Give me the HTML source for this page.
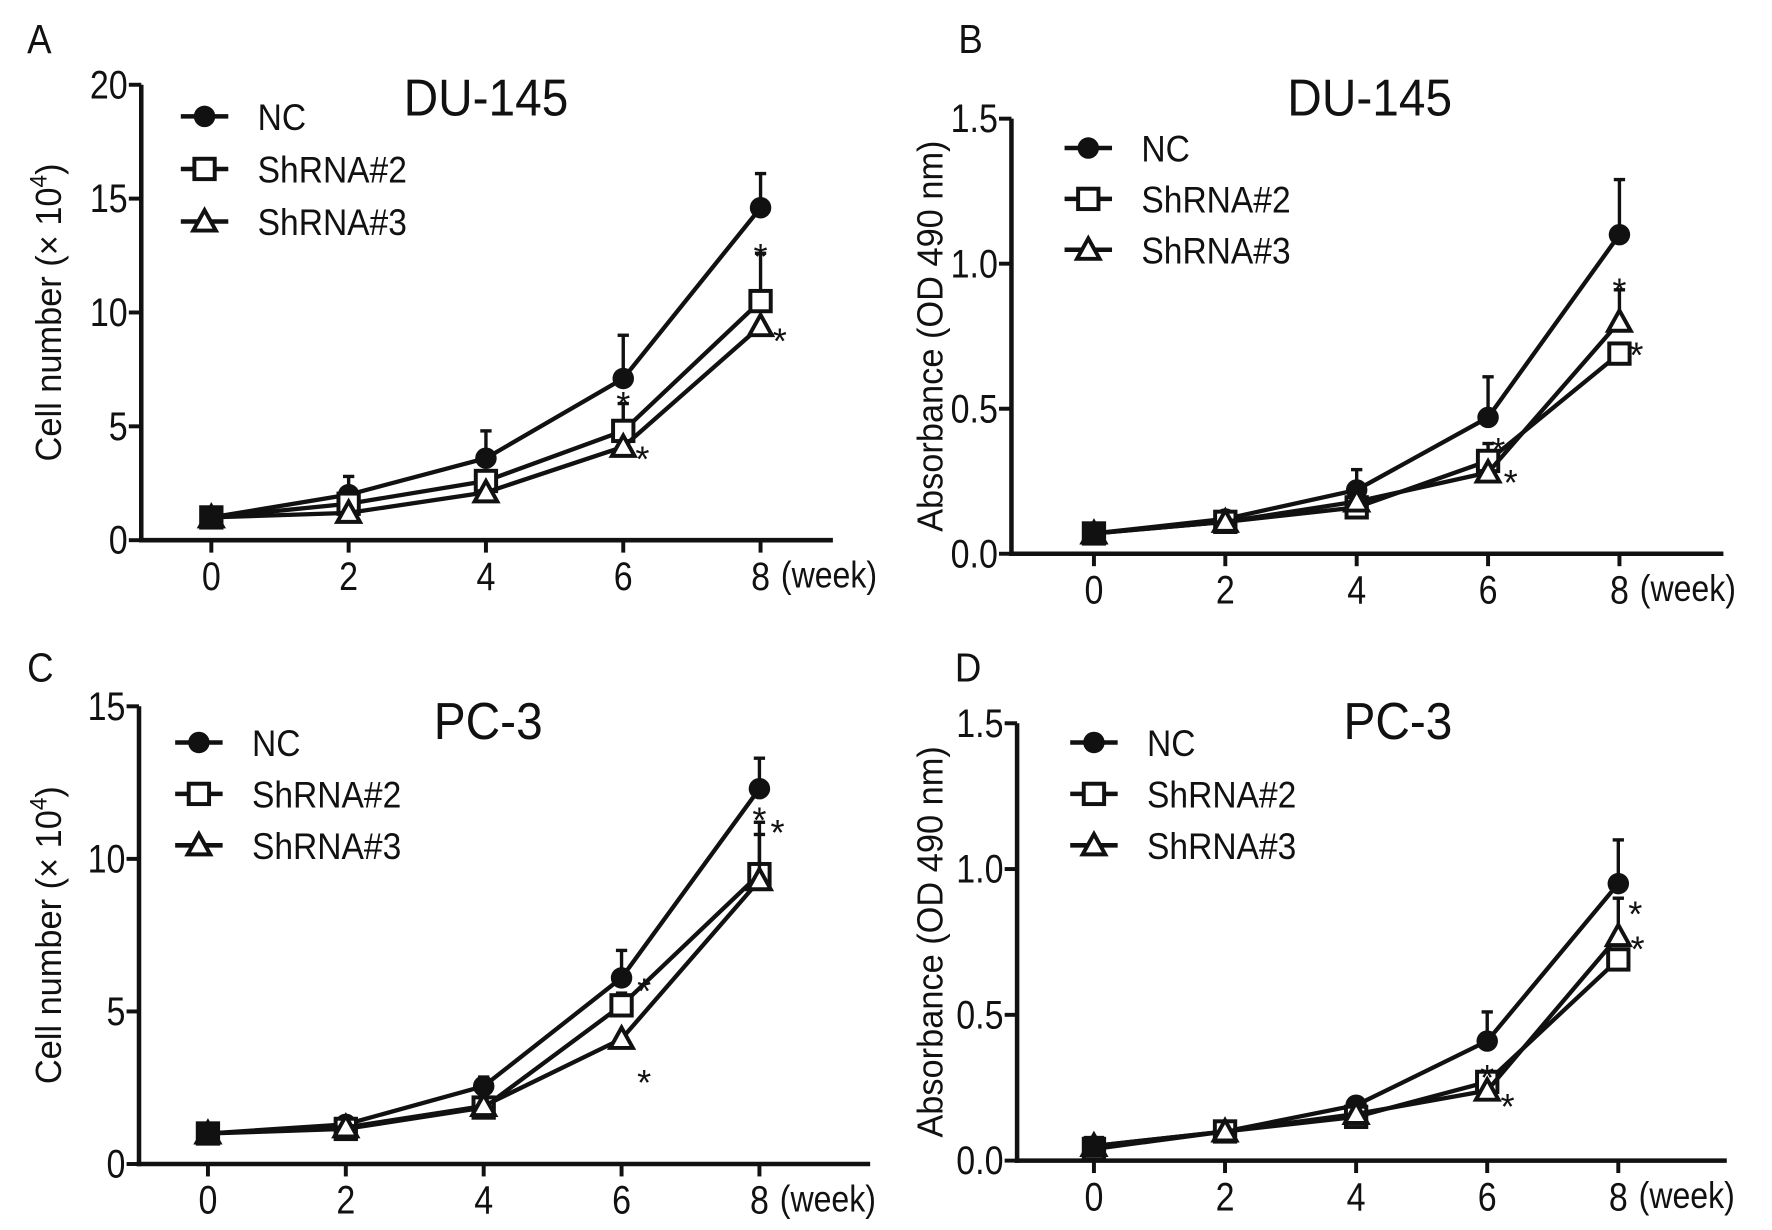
<!DOCTYPE html>
<html><head><meta charset="utf-8">
<style>
html,body{margin:0;padding:0;background:#fff;}
svg{display:block;}
text{font-family:"Liberation Sans Narrow","Liberation Sans",Arial,sans-serif;fill:#111;}
</style></head>
<body>
<svg id="fig" width="1772" height="1230" viewBox="0 0 1568 1088.4" preserveAspectRatio="none" xmlns="http://www.w3.org/2000/svg"></svg>
<script>
const weeks = [0, 2, 4, 6, 8];
const seriesNames = ["NC", "ShRNA#2", "ShRNA#3"];
// Panel A: DU-145 cell number
const aNC = [1, 2.0, 3.6, 7.1, 14.6];
const aNCerr = [0, 0.8, 1.2, 1.9, 1.5];
const aSh2 = [1, 1.6, 2.6, 4.8, 10.5];
const aSh2err = [0, 0.3, 0.4, 1.2, 2.1];
const aSh3 = [1, 1.2, 2.1, 4.1, 9.4];
const aSh3err = [0, 0, 0, 0, 0];
const aTicks = [0, 5, 10, 15, 20];
// Panel B: DU-145 absorbance
const bNC = [0.07, 0.12, 0.22, 0.47, 1.10];
const bNCerr = [0, 0.01, 0.07, 0.14, 0.19];
const bSh2 = [0.07, 0.11, 0.16, 0.32, 0.69];
const bSh2err = [0, 0.01, 0.01, 0.06, 0];
const bSh3 = [0.07, 0.11, 0.18, 0.28, 0.80];
const bSh3err = [0, 0, 0, 0, 0.11];
const bTicks = [0.0, 0.5, 1.0, 1.5];
// Panel C: PC-3 cell number
const cNC = [1, 1.3, 2.55, 6.1, 12.3];
const cNCerr = [0, 0.1, 0.3, 0.9, 1.0];
const cSh2 = [1, 1.15, 1.85, 5.2, 9.5];
const cSh2err = [0, 0, 0.1, 0.4, 1.7];
const cSh3 = [1, 1.2, 1.9, 4.1, 9.3];
const cSh3err = [0, 0, 0, 0, 1.5];
const cTicks = [0, 5, 10, 15];
// Panel D: PC-3 absorbance
const dNC = [0.05, 0.10, 0.19, 0.41, 0.95];
const dNCerr = [0, 0, 0.01, 0.10, 0.15];
const dSh2 = [0.04, 0.10, 0.15, 0.27, 0.69];
const dSh2err = [0, 0, 0, 0.02, 0];
const dSh3 = [0.05, 0.10, 0.16, 0.24, 0.77];
const dSh3err = [0, 0, 0, 0, 0.13];
const dTicks = [0.0, 0.5, 1.0, 1.5];

const NS = "http://www.w3.org/2000/svg";
const svg = document.getElementById("fig");
function el(tag, attrs, parent) {
  const e = document.createElementNS(NS, tag);
  for (const k in attrs) e.setAttribute(k, attrs[k]);
  (parent || svg).appendChild(e);
  return e;
}
function txt(s, x, y, size, anchor, parent, sx) {
  const t = el("text", {x: 0, y: 0, "font-size": size, "text-anchor": anchor || "start",
    transform: `translate(${x},${y}) scale(${sx || 0.86},1)`}, parent);
  t.textContent = s;
  return t;
}
function marker(kind, x, y, g) {
  let m;
  if (kind === 0) m = el("circle", {cx: x, cy: y, r: 9.5, fill: "#111"}, g);
  else if (kind === 1) m = el("rect", {x: x - 9, y: y - 9, width: 18, height: 18, fill: "#fff", stroke: "#111", "stroke-width": 3.5}, g);
  else m = el("polygon", {points: `${x},${y-10} ${x+10},${y+8} ${x-10},${y+8}`, fill: "#fff", stroke: "#111", "stroke-width": 3.5}, g);
  return m;
}

function panel(cfg) {
  const g = el("g", {});
  
  
  const ymax = cfg.ticks[cfg.ticks.length - 1];
  const X = w => cfg.x0 + (cfg.x8 - cfg.x0) * w / 8;
  const Y = v => cfg.yb - (cfg.yb - cfg.yt) * v / ymax;
  const ya = el("line", {x1: cfg.ax, y1: cfg.yt, x2: cfg.ax, y2: cfg.yb + 2, stroke: "#111", "stroke-width": 4}, g);
  
  
  const xa = el("line", {x1: cfg.ax - 2, y1: cfg.yb, x2: cfg.xend, y2: cfg.yb, stroke: "#111", "stroke-width": 4}, g);
  
  
  cfg.ticks.forEach(v => {
    el("line", {x1: cfg.ax - 11, y1: Y(v), x2: cfg.ax, y2: Y(v), stroke: "#111", "stroke-width": 3.5}, g);
    const t = txt(cfg.fmt(v), cfg.ax - 12, Y(v) + 12, 35, "end", g);
    
    
  });
  weeks.forEach(w => {
    el("line", {x1: X(w), y1: cfg.yb, x2: X(w), y2: cfg.yb + 11, stroke: "#111", "stroke-width": 3.5}, g);
    const t = txt(String(w), X(w), cfg.yb + 44, 35, "middle", g);
    
    
  });
  const wk = txt("(week)", X(8) + 18, cfg.yb + 42, 33, "start", g);
  
  
  const yt = el("text", {x: 0, y: 0, "font-size": 32, "text-anchor": "middle",
    transform: `translate(${cfg.ytx},${(cfg.yt + cfg.yb) / 2}) rotate(-90) scale(0.95,1)`}, g);
  
  
  if (cfg.sup) {
    yt.appendChild(document.createTextNode("Cell number (× 10"));
    const ts = document.createElementNS(NS, "tspan");
    ts.setAttribute("dy", "-13"); ts.setAttribute("font-size", "21"); ts.textContent = "4";
    yt.appendChild(ts);
    const ts2 = document.createElementNS(NS, "tspan");
    ts2.setAttribute("dy", "13"); ts2.textContent = ")";
    yt.appendChild(ts2);
  } else yt.textContent = "Absorbance (OD 490 nm)";
  const lt = txt(cfg.letter, cfg.lx, cfg.ly, 36, "start", g, 0.9);
  
  
  const tt = txt(cfg.title, cfg.tx, cfg.ty, 46, "middle", g, 0.92);
  
  
  cfg.series.forEach((s, i) => {
    const sg = el("g", {}, g);
    
    
    s.err.forEach((e, k) => {
      if (e > 0) {
        const top = Y(s.v[k] + e);
        el("line", {x1: X(weeks[k]), y1: Y(s.v[k]), x2: X(weeks[k]), y2: top, stroke: "#111", "stroke-width": 3}, sg);
        el("line", {x1: X(weeks[k]) - 5, y1: top, x2: X(weeks[k]) + 5, y2: top, stroke: "#111", "stroke-width": 3}, sg);
      }
    });
    el("polyline", {points: s.v.map((v, k) => X(weeks[k]) + "," + Y(v)).join(" "), fill: "none", stroke: "#111", "stroke-width": 3.8}, sg);
    s.v.forEach((v, k) => {
      const m = marker(i, X(weeks[k]), Y(v), sg);
      
      
    });
  });
  // opaque first-point overlap mark
  const fp = el("rect", {x: X(0) - 9, y: Y(cfg.series[0].v[0]) - 9, width: 18, height: 18, fill: "#111"}, g);
  
  
  cfg.stars.forEach(st => {
    const a = txt("*", X(st[0]) + st[1], Y(st[2]) + 20, 32, "middle", g, 1);
    
    
  });
  const lg = el("g", {}, g);
  
  
  seriesNames.forEach((n, i) => {
    const y = cfg.legy + i * cfg.legdy;
    const e = el("g", {}, lg);
    
    
    el("line", {x1: cfg.legx - 21, y1: y, x2: cfg.legx + 21, y2: y, stroke: "#111", "stroke-width": 4}, e);
    marker(i, cfg.legx, y, e);
    txt(n, cfg.legx + 47, y + 12, 33, "start", e, 0.9);
  });
}

panel({name: "panel-a", ax: 125, yt: 75, yb: 478, x0: 187, x8: 673, xend: 737, ticks: aTicks, fmt: v => String(v), sup: true, ytx: 54,
  letter: "A", lx: 24, ly: 47, title: "DU-145", tx: 430, ty: 102, legx: 181, legy: 103, legdy: 46.5,
  series: [{v: aNC, err: aNCerr}, {v: aSh2, err: aSh2err}, {v: aSh3, err: aSh3err}],
  stars: [[8, 0, 12.9], [8, 17, 9.2], [6, 0, 6.4], [6, 17, 4.0]]});
panel({name: "panel-b", ax: 895, yt: 105, yb: 490, x0: 968, x8: 1433, xend: 1525, ticks: bTicks, fmt: v => v.toFixed(1), sup: false, ytx: 834,
  letter: "B", lx: 848, ly: 47, title: "DU-145", tx: 1212, ty: 102, legx: 963, legy: 131, legdy: 45,
  series: [{v: bNC, err: bNCerr}, {v: bSh2, err: bSh2err}, {v: bSh3, err: bSh3err}],
  stars: [[8, 0, 0.94], [8, 15, 0.72], [6, 9, 0.39], [6, 20, 0.28]]});
panel({name: "panel-c", ax: 123, yt: 625, yb: 1030, x0: 184, x8: 672, xend: 770, ticks: cTicks, fmt: v => String(v), sup: true, ytx: 54,
  letter: "C", lx: 24, ly: 603, title: "PC-3", tx: 432, ty: 654, legx: 176, legy: 657, legdy: 45.5,
  series: [{v: cNC, err: cNCerr}, {v: cSh2, err: cSh2err}, {v: cSh3, err: cSh3err}],
  stars: [[8, 0, 11.6], [8, 16, 11.2], [6, 20, 6.0], [6, 20, 3.0]]});
panel({name: "panel-d", ax: 900, yt: 640, yb: 1027, x0: 968, x8: 1432, xend: 1528, ticks: dTicks, fmt: v => v.toFixed(1), sup: false, ytx: 834,
  letter: "D", lx: 845, ly: 603, title: "PC-3", tx: 1237, ty: 654, legx: 968, legy: 657, legdy: 45.5,
  series: [{v: dNC, err: dNCerr}, {v: dSh2, err: dSh2err}, {v: dSh3, err: dSh3err}],
  stars: [[8, 15, 0.88], [8, 17, 0.76], [6, 0, 0.32], [6, 18, 0.22]]});
</script>
</body></html>
